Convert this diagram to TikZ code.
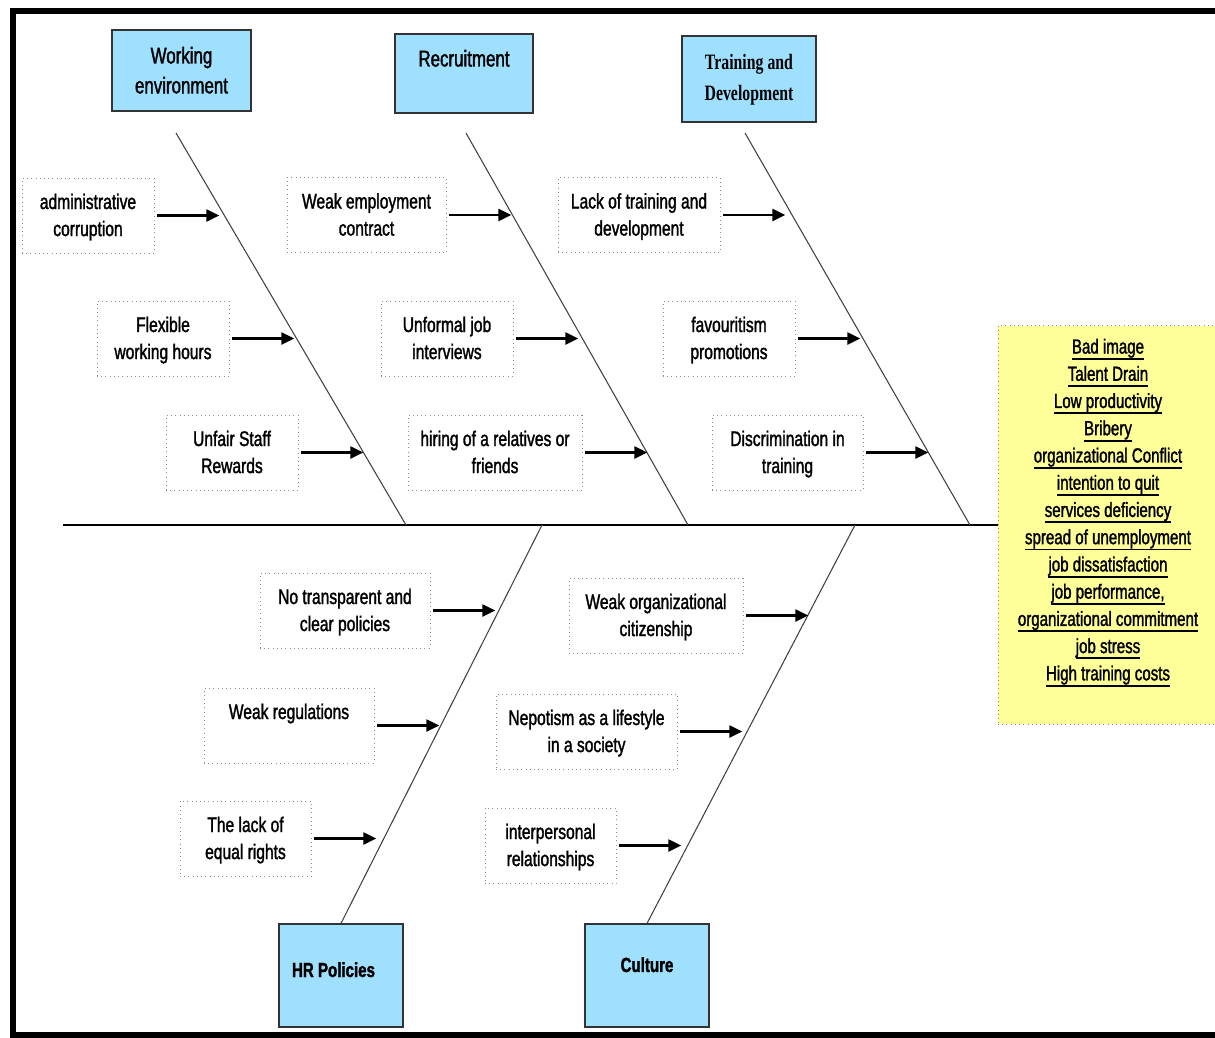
\documentclass[tikz,border=0pt]{standalone}
\usepackage{fontspec}
\setmainfont{Liberation Sans}[FakeStretch=0.74,FakeBold=1.5]
\newfontfamily\tdfont{Liberation Serif}[FakeStretch=0.72]
\usetikzlibrary{arrows.meta}
\definecolor{catblue}{RGB}{160,224,255}
\definecolor{effyellow}{RGB}{255,255,153}
\newcommand{\ulbar}[1]{\leavevmode\setbox0\hbox{#1}\rlap{\rule[-3.6pt]{\wd0}{1.1pt}}\box0}

\begin{document}
\begin{tikzpicture}[x=0.02cm,y=-0.02cm,
	cat/.style={draw=black!80,fill=catblue,line width=0.7pt,align=center,inner sep=0pt,text height=26.5pt,text depth=0.5pt,font=\fontsize{13}{17}\selectfont},
	cause/.style={draw=black!45,dotted,align=center,inner sep=0pt,minimum height=1.5cm,text height=24.4pt,text depth=1pt,font=\fontsize{12}{15.4}\selectfont},
	effect/.style={draw=black!45,dotted,fill=effyellow,align=center,inner sep=0pt,text height=180.8pt,text depth=4pt,font=\fontsize{11.6}{15.5}\selectfont},
	bone/.style={draw=black!75,line width=0.6pt},
	arr/.style={-{Triangle[length=0.26cm,width=0.24cm]},line width=1.3pt,shorten <=0.06cm}]
	\useasboundingbox (0,0) rectangle (1215,1038);
	\draw[line width=0.12cm] (1225,11) -- (13,11) -- (13,1035) -- (1225,1035);

	\node[cat,minimum width=2.78cm,minimum height=1.62cm] (work) at (181.5,70.5) {Working\\environment};
	\node[cat,minimum width=2.76cm,minimum height=1.58cm,text height=9.4pt,text depth=17.4pt] (recr) at (464,73.5) {Recruitment};
	\node[cat,minimum width=2.68cm,minimum height=1.72cm,text height=26pt,text depth=1pt,font=\tdfont\bfseries\fontsize{12.5}{18}\selectfont] (train) at (749,79) {Training and\\Development};
	\node[cat,minimum width=2.48cm,minimum height=2.06cm,text height=9pt,text depth=7.3pt,font=\bfseries\fontsize{11.6}{15}\selectfont] (hr) at (341,975.5) {HR Policies\hspace*{0.3cm}};
	\node[cat,minimum width=2.48cm,minimum height=2.06cm,text height=9pt,text depth=13pt,font=\bfseries\fontsize{11.6}{15}\selectfont] (cult) at (647,975.5) {Culture};

	\node[effect,minimum width=4.4cm,minimum height=7.98cm] (eff) at (1108,525) {\ulbar{Bad image}\\\ulbar{Talent Drain}\\\ulbar{Low productivity}\\\ulbar{Bribery}\\\ulbar{organizational Conflict}\\\ulbar{intention to quit}\\\ulbar{services deficiency}\\\ulbar{spread of unemployment}\\\ulbar{job dissatisfaction}\\\ulbar{job performance,}\\\ulbar{organizational commitment}\\\ulbar{job stress}\\\ulbar{High training costs}};

	\coordinate (tail) at (63,525);
	\draw[line width=0.8pt] (tail) -- (eff.west);
	\coordinate (b1) at (176,133);
	\coordinate (e1) at (406,525);
	\coordinate (b2) at (466,133);
	\coordinate (e2) at (688,525);
	\coordinate (b3) at (745,133);
	\coordinate (e3) at (970,525);
	\coordinate (b4) at (542,525);
	\coordinate (b5) at (855,525);
	\foreach \i in {1,2,3}
	{
	\draw[bone] (b\i) -- (e\i);
	}
	\draw[bone] (b4) -- (hr.north);
	\draw[bone] (b5) -- (cult.north);

	\node[cause,minimum width=2.64cm] (c11) at (88,215.5) {administrative\\corruption};
	\node[cause,minimum width=2.64cm] (c12) at (163,338.5) {Flexible\\working hours};
	\node[cause,minimum width=2.64cm] (c13) at (232,452.5) {Unfair Staff\\Rewards};
	\node[cause,minimum width=3.18cm] (c21) at (366.5,215) {Weak employment\\contract};
	\node[cause,minimum width=2.64cm] (c22) at (447,338.5) {Unformal job\\interviews};
	\node[cause,minimum width=3.48cm] (c23) at (495,452.5) {hiring of a relatives or\\friends};
	\node[cause,minimum width=3.24cm] (c31) at (639,215) {Lack of training and\\development};
	\node[cause,minimum width=2.64cm] (c32) at (729,338.5) {favouritism\\promotions};
	\node[cause,minimum width=3.02cm] (c33) at (787.5,452.5) {Discrimination in\\training};
	\node[cause,minimum width=3.4cm] (c41) at (345,610.5) {No transparent and\\clear policies};
	\node[cause,minimum width=3.4cm,text height=9pt,text depth=16.4pt] (c42) at (289,725.5) {Weak regulations};
	\node[cause,minimum width=2.62cm] (c43) at (245.5,838.5) {The lack of\\equal rights};
	\node[cause,minimum width=3.48cm] (c51) at (656,615.5) {Weak organizational\\citizenship};
	\node[cause,minimum width=3.62cm] (c52) at (586.5,731.5) {Nepotism as a lifestyle\\in a society};
	\node[cause,minimum width=2.62cm] (c53) at (550.5,845.5) {interpersonal\\relationships};

	\foreach \i in {11,12,13,21,22,23,31,32,33,41,42,43,51,52,53}
	{
	\coordinate (t\i) at ([xshift=1.3cm]c\i.east);
	\draw[arr] (c\i.east) -- (t\i);
	}
\end{tikzpicture}
\end{document}
